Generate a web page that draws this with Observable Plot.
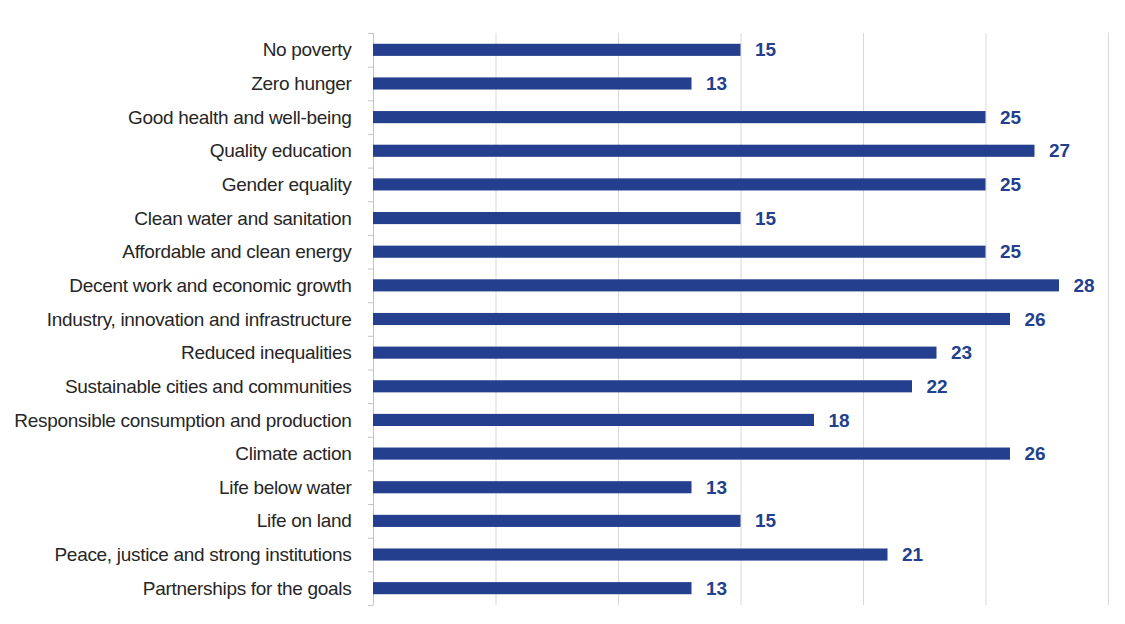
<!DOCTYPE html>
<html>
<head>
<meta charset="utf-8">
<script src="https://cdn.jsdelivr.net/npm/d3@7"></script>
<script src="https://cdn.jsdelivr.net/npm/@observablehq/plot@0.6"></script>
<style>
  html, body { margin: 0; padding: 0; background: #fff; }
  #chart { width: 1125px; height: 624px; }
</style>
</head>
<body>
<div id="chart"></div>
<script>
const goals = [
  "No poverty",
  "Zero hunger",
  "Good health and well-being",
  "Quality education",
  "Gender equality",
  "Clean water and sanitation",
  "Affordable and clean energy",
  "Decent work and economic growth",
  "Industry, innovation and infrastructure",
  "Reduced inequalities",
  "Sustainable cities and communities",
  "Responsible consumption and production",
  "Climate action",
  "Life below water",
  "Life on land",
  "Peace, justice and strong institutions",
  "Partnerships for the goals"
];
const values = [15, 13, 25, 27, 25, 15, 25, 28, 26, 23, 22, 18, 26, 13, 15, 21, 13];
const gridTicks = [5, 10, 15, 20, 25, 30];

const data = goals.map((g, i) => ({goal: g, value: values[i]}));

const W = 1125, H = 624;
const mT = 33, mB = 19, mL = 373, mR = 17;
const step = (H - mT - mB) / goals.length;
const navy = "#233F8D";
const font = "'Liberation Sans', Arial, sans-serif";

const chart = Plot.plot({
  width: W,
  height: H,
  marginTop: mT,
  marginBottom: mB,
  marginLeft: mL,
  marginRight: mR,
  style: {fontFamily: font, background: "#fff"},
  x: {domain: [0, 30], axis: null},
  y: {domain: goals, paddingInner: 0.64, paddingOuter: 0.32, round: false, label: null},
  marks: [
    Plot.ruleX(gridTicks, {stroke: "#d9d9d9", strokeWidth: 1}),
    Plot.ruleX([0], {stroke: "#c4c4c4", strokeWidth: 1}),
    Plot.ruleY(goals, {y: d => d, x1: 0, x2: 0, insetLeft: -5, dy: -step / 2, stroke: "#c4c4c4"}),
    Plot.ruleY([goals[goals.length - 1]], {y: d => d, x1: 0, x2: 0, insetLeft: -5, dy: step / 2, stroke: "#c4c4c4"}),
    Plot.barX(data, {x: "value", y: "goal", fill: navy}),
    Plot.text(data, {
      x: "value", y: "goal", text: d => String(d.value),
      dx: 14, textAnchor: "start", fill: navy,
      fontWeight: "bold", fontSize: 19
    }),
    Plot.axisY({
      tickSize: 0, tickPadding: 22, fontSize: 19, label: null,
      fill: "#262626"
    })
  ]
});

chart.querySelectorAll("g[aria-label='y-axis tick label'] text").forEach(t => {
  t.style.letterSpacing = "-0.3px";
});
document.getElementById("chart").appendChild(chart);
</script>
</body>
</html>
